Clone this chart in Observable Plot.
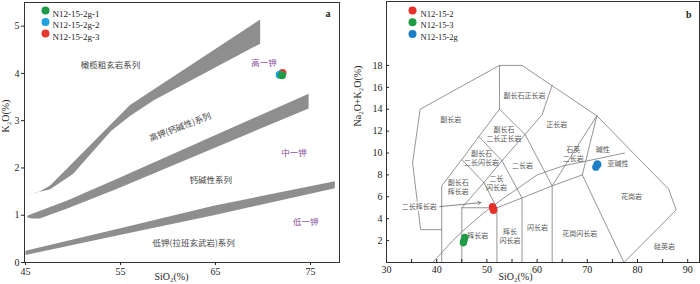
<!DOCTYPE html>
<html><head><meta charset="utf-8">
<script src="https://cdn.jsdelivr.net/npm/d3@7"></script>
<script src="https://cdn.jsdelivr.net/npm/@observablehq/plot@0.6"></script>
<style>
html,body{margin:0;padding:0;background:#fff;}
#wrap{display:flex;width:700px;height:284px;overflow:hidden;}
#wrap svg{display:block;flex:none;}
</style></head><body><div id="wrap"></div>
<script>
// ---------- Panel a: K2O vs SiO2 ----------
const bandAUpper = [[45,1.42],[46.5,1.5],[47.6,1.63],[56,3.33],[69.7,5.14]];
const bandALower = [[45,1.42],[47.6,1.55],[50,1.87],[54,2.78],[56,3.1],[58.5,3.43],[69.7,4.63]];
const bandBUpper = [[45.2,0.99],[45.7,1.03],[49.4,1.31],[54.65,1.77],[74.8,3.57]];
const bandBLower = [[45.2,0.95],[45.7,0.93],[46.5,0.93],[49.4,1.14],[54.65,1.56],[74.8,3.26]];
const bandCUpper = [[45,0.25],[54.65,0.71],[64.8,1.2],[77.56,1.72]];
const bandCLower = [[45,0.16],[54.65,0.57],[64.8,1.0],[77.56,1.57]];

const samplesA = ["N12-15-2g-1","N12-15-2g-2","N12-15-2g-3"];
const colorsA = ["#1f9a48","#1da1e2","#e5392f"];
const sio2A = [72.0, 71.75, 72.05];
const k2oA = [3.96, 3.97, 4.01];

const seriesNamesA = ["橄榄粗玄岩系列","高钾(钙碱性)系列","钙碱性系列","低钾(拉班玄武岩)系列"];
const seriesXA = [53.95, 61.3, 64.5, 62.7];
const seriesYA = [4.17, 2.86, 1.75, 0.41];
const seriesRotA = [0, -21, 0, 0];
const kNamesA = ["高一钾","中一钾","低一钾"];
const kXA = [70.1, 73.25, 74.5];
const kYA = [4.22, 2.31, 0.86];
const xTicksA = [45,55,65,75];
const yTicksA = [0,1,2,3,4,5];

// ---------- Panel b: TAS ----------
const tasLines = [
  [[41,3],[36.8,3],[35.2,9.1],[36.7,14],[52.5,18],[57,18],[71.9,13.4],[86.2,6.7],[87.7,4.8],[77.3,0]],
  [[41,0],[41,7],[45,9.4],[48.4,11.5],[52.5,14],[52.5,18]],
  [[45,0],[45,5],[52,5],[52,0]],
  [[45,9.4],[49.4,7.3],[52,5]],
  [[45,5],[49.4,7.3]],
  [[48.4,11.5],[53,9.3],[49.4,7.3]],
  [[53,9.3],[57,5.9],[57,0]],
  [[52,5],[57,5.9],[63,7],[69,8],[77.3,0]],
  [[63,0],[63,7],[57.6,11.7],[53,9.3]],
  [[52.5,14],[57.6,11.7],[61,13.5],[63,16.2]],
  [[63,7],[71.9,13.4]],
  [[69,8],[71.9,13.4]],
  [[39.2,0],[40,0.4],[43.2,2],[45,2.8],[48,4],[50,4.75],[53.7,6],[55,6.4],[60,8],[65,8.8],[77.4,10]]
];
const samplesB = ["N12-15-2","N12-15-3","N12-15-2g"];
const colorsB = ["#e8302a","#1f9a45","#1b7fc6"];
const sio2B = [[51.1,51.2,51.3,51.35],[45.6,45.5,45.35,45.3],[72.0,71.8,71.7,72.1]];
const alkB  = [[5.1,4.9,4.75,4.85],[2.3,2.1,1.9,1.8],[9.0,8.8,8.7,8.95]];

const rockNames = ["副长岩","副长石正长岩","正长岩","副长石\n二长正长岩","副长石\n二长闪长岩","副长石\n辉长岩","二长\n闪长岩","二长岩","石英\n二长岩","碱性","亚碱性","辉长岩","辉长\n闪长岩","闪长岩","花岗闪长岩","花岗岩","硅英岩"];
const rockX = [42.8,57.5,63.9,53.4,48.9,44.3,51.9,57.1,67.2,73.1,76.1,48.2,54.6,60.1,68.5,78.8,85.4];
const rockY = [13.1,15.3,12.6,11.8,9.57,6.9,7.3,8.94,9.98,10.37,9.1,2.5,2.47,3.19,2.7,6.08,1.52];
const arrowLabel = "二长辉长岩";
const arrowLabelX = 36.5, arrowLabelY = 5.12;
const arrowFrom = [40.6, 5.1], arrowTo = [48.8, 5.47];
const xTicksB = [30,40,50,60,70,80,90];
const xMinorB = [30,35,40,45,50,55,60,65,70,75,80,85,90];
const yTicksB = [2,4,6,8,10,12,14,16,18];

const FONT = "'Liberation Serif','Times New Roman','Noto Sans CJK SC',serif";
const CJK = "'Noto Sans CJK SC','Liberation Serif',sans-serif";
const CJK2 = "'Liberation Serif','Noto Sans CJK SC',serif";

// build rows
const bandRows = [["A",bandAUpper,bandALower],["B",bandBUpper,bandBLower],["C",bandCUpper,bandCLower]]
  .flatMap(([id,u,l]) => [...u, ...l.slice().reverse()].map(([x,y]) => ({band:id,x,y})));
const ptsA = samplesA.map((s,i)=>({sample:s,x:sio2A[i],y:k2oA[i]})).reverse();
const seriesA = seriesNamesA.map((t,i)=>({t,x:seriesXA[i],y:seriesYA[i],r:seriesRotA[i]}));
const kA = kNamesA.map((t,i)=>({t,x:kXA[i],y:kYA[i]}));

const plotA = Plot.plot({
  width:345, height:284, marginLeft:24, marginRight:6, marginTop:2, marginBottom:22,
  x:{domain:[44.9,78.05]}, y:{domain:[0,5.5]},
  color:{domain:samplesA, range:colorsA},
  style:{fontFamily:FONT, fontSize:"10px", color:"#222", background:"#fff", overflow:"visible"},
  marks:[
    Plot.line(bandRows,{x:"x",y:"y",z:"band",fill:"#8e8e8e",stroke:"none"}),
    Plot.text(seriesA,{x:"x",y:"y",text:"t",rotate:"r",fontFamily:CJK,fontSize:8.5,fill:"#444",letterSpacing:"0.6px"}),
    Plot.text(kA,{x:"x",y:"y",text:"t",fontFamily:CJK,fontSize:8.5,fill:"#8a4f9c",letterSpacing:"1.5px"}),
    Plot.dot(ptsA,{x:"x",y:"y",r:4,fill:"sample",stroke:"none"}),
    Plot.frame({stroke:"#333"}),
    Plot.axisX({ticks:xTicksA,tickSize:3,tickPadding:2,label:null,fontSize:10,tickFormat:d=>String(d)}),
    Plot.axisY({ticks:yTicksA,tickSize:3,tickPadding:2,label:null,fontSize:10,tickFormat:d=>String(d)}),
    Plot.text(["K₂O(%)"],{frameAnchor:"left",dx:-19,rotate:-90,text:d=>d,fontSize:10}),
    Plot.text(["SiO₂(%)"],{frameAnchor:"bottom",dx:-10.5,dy:17,text:d=>d,fontSize:10}),
    Plot.text(["a"],{frameAnchor:"top-right",dx:-9,dy:7,text:d=>d,fontWeight:"bold",fontSize:10}),
    ...samplesA.flatMap((s,i)=>[
      Plot.dot([s],{frameAnchor:"top-left",dx:21,dy:8+i*11.5,r:4,fill:colorsA[i]}),
      Plot.text([s],{frameAnchor:"top-left",dx:28,dy:8+i*11.5,text:d=>d,textAnchor:"start",fontSize:9})
    ])
  ]
});

const lineRows = tasLines.flatMap((l,i)=>l.map(([x,y])=>({id:i,x,y})));
const ptsB = samplesB.flatMap((s,i)=>sio2B[i].map((x,j)=>({sample:s,x,y:alkB[i][j]})));
const rocks = rockNames.map((t,i)=>({t,x:rockX[i],y:rockY[i]}));

const plotB = Plot.plot({
  width:355, height:284, marginLeft:41, marginRight:1, marginTop:1, marginBottom:22,
  x:{domain:[30,92.35]}, y:{domain:[0,23.84]},
  color:{domain:samplesB, range:colorsB},
  style:{fontFamily:FONT, fontSize:"10px", color:"#222", background:"#fff", overflow:"visible"},
  marks:[
    Plot.line(lineRows,{x:"x",y:"y",z:"id",stroke:"#7a7a7a",strokeWidth:0.8}),
    Plot.text(rocks,{x:"x",y:"y",text:"t",fontFamily:CJK2,fontSize:7,fill:"#555",lineHeight:1.3,letterSpacing:"0.8px"}),
    Plot.text([arrowLabel],{x:arrowLabelX,y:arrowLabelY,text:d=>d,fontFamily:CJK2,fontSize:7,fill:"#555",letterSpacing:"0.8px",stroke:"white",strokeWidth:3}),
    Plot.arrow([{a:arrowFrom,b:arrowTo}],{x1:d=>d.a[0],y1:d=>d.a[1],x2:d=>d.b[0],y2:d=>d.b[1],stroke:"#666",strokeWidth:0.8,headLength:6}),
    Plot.dot(ptsB,{x:"x",y:"y",r:3.6,fill:"sample",stroke:"none"}),
    Plot.frame({stroke:"#333"}),
    Plot.axisX({ticks:xTicksB,tickSize:0,tickPadding:3,label:null,fontSize:10}),
    Plot.axisX({ticks:xMinorB,tickSize:3,tickFormat:()=>"",label:null,dy:-3}),
    Plot.axisY({ticks:yTicksB,tickSize:0,tickPadding:4,label:null,fontSize:10}),
    Plot.axisY({ticks:yTicksB,tickSize:3,tickFormat:()=>"",label:null,dx:3}),
    Plot.text(["Na₂O+K₂O(%)"],{frameAnchor:"left",dx:-29,dy:-5.5,rotate:-90,text:d=>d,fontSize:10}),
    Plot.text(["SiO₂(%)"],{frameAnchor:"bottom",dx:-27.5,dy:17.5,text:d=>d,fontSize:10}),
    Plot.text(["b"],{frameAnchor:"top-right",dx:-8,dy:9,text:d=>d,fontWeight:"bold",fontSize:10}),
    ...samplesB.flatMap((s,i)=>[
      Plot.dot([s],{frameAnchor:"top-left",dx:26,dy:9+i*11.7,r:4,fill:colorsB[i]}),
      Plot.text([s],{frameAnchor:"top-left",dx:34,dy:9+i*11.7,text:d=>d,textAnchor:"start",fontSize:8.5})
    ])
  ]
});

const wrap = document.getElementById("wrap");
wrap.appendChild(plotA);
wrap.appendChild(plotB);
</script></body></html>
